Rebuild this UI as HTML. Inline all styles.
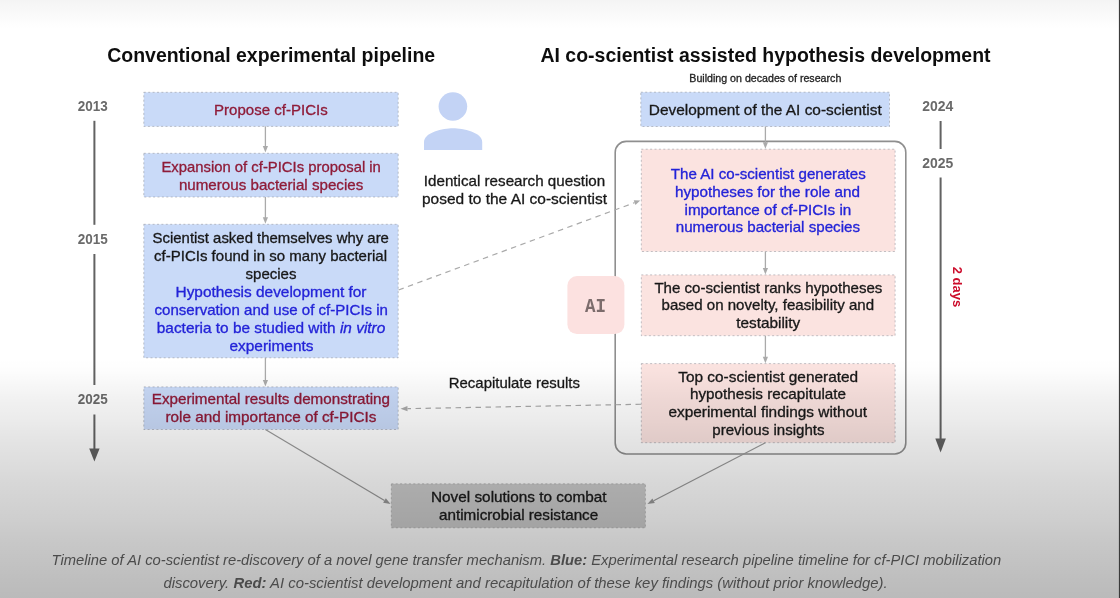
<!DOCTYPE html>
<html lang="en"><head><meta charset="utf-8"><title>AI co-scientist timeline</title>
<style>
html,body{margin:0;padding:0;background:#fff;}
body{width:1120px;height:598px;overflow:hidden;position:relative;}
</style></head>
<body>
<svg width="1120" height="598" viewBox="0 0 1120 598" style="position:absolute;left:0;top:0">
<defs>
<linearGradient id="topg" x1="0" y1="0" x2="0" y2="1"><stop offset="0" stop-color="#f4f4f4"/><stop offset="1" stop-color="#ffffff"/></linearGradient>
<linearGradient id="botg" gradientUnits="userSpaceOnUse" x1="0" y1="340" x2="0" y2="598">
<stop offset="0.0000" stop-color="#000" stop-opacity="0"/>
<stop offset="0.0698" stop-color="#000" stop-opacity="0"/>
<stop offset="0.1163" stop-color="#000" stop-opacity="0.008"/>
<stop offset="0.1550" stop-color="#000" stop-opacity="0.0235"/>
<stop offset="0.2326" stop-color="#000" stop-opacity="0.055"/>
<stop offset="0.3101" stop-color="#000" stop-opacity="0.078"/>
<stop offset="0.3876" stop-color="#000" stop-opacity="0.106"/>
<stop offset="0.4651" stop-color="#000" stop-opacity="0.129"/>
<stop offset="0.5426" stop-color="#000" stop-opacity="0.153"/>
<stop offset="0.6202" stop-color="#000" stop-opacity="0.1725"/>
<stop offset="0.6977" stop-color="#000" stop-opacity="0.192"/>
<stop offset="0.7752" stop-color="#000" stop-opacity="0.2157"/>
<stop offset="0.8527" stop-color="#000" stop-opacity="0.235"/>
<stop offset="0.9302" stop-color="#000" stop-opacity="0.255"/>
<stop offset="1.0000" stop-color="#000" stop-opacity="0.27"/>
</linearGradient>
<filter id="soft" filterUnits="userSpaceOnUse" x="-10" y="-10" width="1140" height="618"><feGaussianBlur stdDeviation="0.55"/></filter>
</defs>
<g filter="url(#soft)">
<rect x="-10" y="-10" width="1140" height="618" fill="#ffffff"/>
<rect x="-10" y="0" width="1140" height="28" fill="url(#topg)"/>
<rect x="-10" y="-10" width="1140" height="10" fill="#f4f4f4"/>
<text x="107.2" y="62" font-family="'Liberation Sans', Arial, sans-serif" font-size="19.5" font-weight="bold" font-style="normal" fill="#111" text-anchor="start" textLength="328" lengthAdjust="spacingAndGlyphs">Conventional experimental pipeline</text>
<text x="540.5" y="62" font-family="'Liberation Sans', Arial, sans-serif" font-size="19.5" font-weight="bold" font-style="normal" fill="#111" text-anchor="start" textLength="450" lengthAdjust="spacingAndGlyphs">AI co-scientist assisted hypothesis development</text>
<text x="689.3" y="81.8" font-family="'Liberation Sans', Arial, sans-serif" font-size="10.5" font-weight="normal" font-style="normal" fill="#222" text-anchor="start" textLength="152" lengthAdjust="spacingAndGlyphs" stroke="#222" stroke-width="0.3">Building on decades of research</text>
<text x="77.8" y="111.3" font-family="'Liberation Sans', Arial, sans-serif" font-size="14" font-weight="bold" font-style="normal" fill="#6a6a6a" text-anchor="start" textLength="30" lengthAdjust="spacingAndGlyphs">2013</text>
<text x="77.8" y="243.5" font-family="'Liberation Sans', Arial, sans-serif" font-size="14" font-weight="bold" font-style="normal" fill="#6a6a6a" text-anchor="start" textLength="30" lengthAdjust="spacingAndGlyphs">2015</text>
<text x="77.8" y="404.2" font-family="'Liberation Sans', Arial, sans-serif" font-size="14" font-weight="bold" font-style="normal" fill="#6a6a6a" text-anchor="start" textLength="30" lengthAdjust="spacingAndGlyphs">2025</text>
<line x1="94.4" y1="120.8" x2="94.4" y2="224.8" stroke="#626262" stroke-width="2"/>
<line x1="94.4" y1="254" x2="94.4" y2="385" stroke="#626262" stroke-width="2"/>
<line x1="94.4" y1="414.5" x2="94.4" y2="450" stroke="#626262" stroke-width="2"/>
<path d="M89.2,448.6 L99.6,448.6 L94.4,461.6 Z" fill="#626262"/>
<text x="922.2" y="111.2" font-family="'Liberation Sans', Arial, sans-serif" font-size="14" font-weight="bold" font-style="normal" fill="#6a6a6a" text-anchor="start" textLength="31" lengthAdjust="spacingAndGlyphs">2024</text>
<text x="922.2" y="167.9" font-family="'Liberation Sans', Arial, sans-serif" font-size="14" font-weight="bold" font-style="normal" fill="#6a6a6a" text-anchor="start" textLength="31" lengthAdjust="spacingAndGlyphs">2025</text>
<line x1="940.6" y1="121" x2="940.6" y2="149" stroke="#626262" stroke-width="2"/>
<line x1="940.6" y1="177.4" x2="940.6" y2="440" stroke="#626262" stroke-width="2"/>
<path d="M935.3,438.4 L945.9,438.4 L940.6,452.4 Z" fill="#626262"/>
<text transform="translate(953.2,266.7) rotate(90)" x="0" y="0" font-family="'Liberation Sans', Arial, sans-serif" font-size="13.2" font-weight="bold" fill="#cc0a2a" textLength="40.5" lengthAdjust="spacingAndGlyphs">2 days</text>
<rect x="143.8" y="92.3" width="254.39999999999998" height="34.10000000000001" fill="#c9daf8"/>
<rect x="143.8" y="92.3" width="254.39999999999998" height="34.10000000000001" fill="none" stroke="#8f949c" stroke-width="1" stroke-dasharray="2 2.4" stroke-opacity="0.55"/>
<text x="214" y="115.1" font-family="'Liberation Sans', Arial, sans-serif" font-size="14.3" font-weight="normal" font-style="normal" fill="#8f1b38" text-anchor="start" textLength="113.7" lengthAdjust="spacingAndGlyphs" stroke="#8f1b38" stroke-width="0.3">Propose cf-PICIs</text>
<line x1="265.4" y1="126.4" x2="265.4" y2="148.6" stroke="#aaaaaa" stroke-width="1.3"/>
<path d="M262.79999999999995,146.1 L268.0,146.1 L265.4,152.6 Z" fill="#aaaaaa"/>
<rect x="143.8" y="153.3" width="254.39999999999998" height="43.69999999999999" fill="#c9daf8"/>
<rect x="143.8" y="153.3" width="254.39999999999998" height="43.69999999999999" fill="none" stroke="#8f949c" stroke-width="1" stroke-dasharray="2 2.4" stroke-opacity="0.55"/>
<text x="161.4" y="172" font-family="'Liberation Sans', Arial, sans-serif" font-size="14.3" font-weight="normal" font-style="normal" fill="#8f1b38" text-anchor="start" textLength="219.5" lengthAdjust="spacingAndGlyphs" stroke="#8f1b38" stroke-width="0.3">Expansion of cf-PICIs proposal in</text>
<text x="178.9" y="189.6" font-family="'Liberation Sans', Arial, sans-serif" font-size="14.3" font-weight="normal" font-style="normal" fill="#8f1b38" text-anchor="start" textLength="184.4" lengthAdjust="spacingAndGlyphs" stroke="#8f1b38" stroke-width="0.3">numerous bacterial species</text>
<line x1="265.4" y1="197.0" x2="265.4" y2="219.8" stroke="#aaaaaa" stroke-width="1.3"/>
<path d="M262.79999999999995,217.3 L268.0,217.3 L265.4,223.8 Z" fill="#aaaaaa"/>
<rect x="143.8" y="224.3" width="254.39999999999998" height="133.5" fill="#c9daf8"/>
<rect x="143.8" y="224.3" width="254.39999999999998" height="133.5" fill="none" stroke="#8f949c" stroke-width="1" stroke-dasharray="2 2.4" stroke-opacity="0.55"/>
<line x1="265.4" y1="357.8" x2="265.4" y2="382.4" stroke="#aaaaaa" stroke-width="1.3"/>
<path d="M262.79999999999995,379.9 L268.0,379.9 L265.4,386.4 Z" fill="#aaaaaa"/>
<rect x="143.8" y="386.9" width="254.39999999999998" height="42.60000000000002" fill="#c9daf8"/>
<rect x="143.8" y="386.9" width="254.39999999999998" height="42.60000000000002" fill="none" stroke="#8f949c" stroke-width="1" stroke-dasharray="2 2.4" stroke-opacity="0.55"/>
<rect x="615.2" y="141.4" width="290.6" height="312.6" rx="11" ry="11" fill="none" stroke="#8f8f8f" stroke-width="1.6"/>
<rect x="640.8" y="92.2" width="248.70000000000005" height="34.3" fill="#c9daf8"/>
<rect x="640.8" y="92.2" width="248.70000000000005" height="34.3" fill="none" stroke="#8f949c" stroke-width="1" stroke-dasharray="2 2.4" stroke-opacity="0.55"/>
<text x="648.75" y="115" font-family="'Liberation Sans', Arial, sans-serif" font-size="14.3" font-weight="normal" font-style="normal" fill="#1a1a1a" text-anchor="start" textLength="233" lengthAdjust="spacingAndGlyphs" stroke="#1a1a1a" stroke-width="0.3">Development of the AI co-scientist</text>
<line x1="765.4" y1="126.5" x2="765.4" y2="144.8" stroke="#aaaaaa" stroke-width="1.3"/>
<path d="M762.8,142.3 L768.0,142.3 L765.4,148.8 Z" fill="#aaaaaa"/>
<rect x="641.3" y="149.2" width="253.80000000000007" height="102.30000000000001" fill="#fbe3e0"/>
<rect x="641.3" y="149.2" width="253.80000000000007" height="102.30000000000001" fill="none" stroke="#8f949c" stroke-width="1" stroke-dasharray="2 2.4" stroke-opacity="0.55"/>
<line x1="765.4" y1="251.5" x2="765.4" y2="270.4" stroke="#aaaaaa" stroke-width="1.3"/>
<path d="M762.8,267.9 L768.0,267.9 L765.4,274.4 Z" fill="#aaaaaa"/>
<rect x="641.3" y="274.9" width="253.80000000000007" height="60.80000000000001" fill="#fbe3e0"/>
<rect x="641.3" y="274.9" width="253.80000000000007" height="60.80000000000001" fill="none" stroke="#8f949c" stroke-width="1" stroke-dasharray="2 2.4" stroke-opacity="0.55"/>
<line x1="765.4" y1="335.7" x2="765.4" y2="359.2" stroke="#aaaaaa" stroke-width="1.3"/>
<path d="M762.8,356.7 L768.0,356.7 L765.4,363.2 Z" fill="#aaaaaa"/>
<rect x="641.3" y="363.6" width="253.80000000000007" height="79.09999999999997" fill="#fbe3e0"/>
<rect x="641.3" y="363.6" width="253.80000000000007" height="79.09999999999997" fill="none" stroke="#8f949c" stroke-width="1" stroke-dasharray="2 2.4" stroke-opacity="0.55"/>
<rect x="567.4" y="276.1" width="57.0" height="58.0" rx="9.5" ry="9.5" fill="#fce1e0"/>
<text x="585.0" y="311.8" font-family="'Liberation Mono', monospace" font-size="20" font-weight="bold" font-style="normal" fill="#7c6c6c" text-anchor="start" textLength="21" lengthAdjust="spacingAndGlyphs">AI</text>
<circle cx="452.9" cy="106.5" r="14.3" fill="#c3d3f5"/>
<path d="M424,150 L424,142 C424,132.5 443,128.3 453,128.3 C463,128.3 482.2,132.5 482.2,142 L482.2,150 Z" fill="#c3d3f5"/>
<text x="423.8" y="186.0" font-family="'Liberation Sans', Arial, sans-serif" font-size="14.3" font-weight="normal" font-style="normal" fill="#1a1a1a" text-anchor="start" textLength="181.4" lengthAdjust="spacingAndGlyphs" stroke="#1a1a1a" stroke-width="0.3">Identical research question</text>
<text x="422" y="204.2" font-family="'Liberation Sans', Arial, sans-serif" font-size="14.3" font-weight="normal" font-style="normal" fill="#1a1a1a" text-anchor="start" textLength="185" lengthAdjust="spacingAndGlyphs" stroke="#1a1a1a" stroke-width="0.3">posed to the AI co-scientist</text>
<text x="448.75" y="387.5" font-family="'Liberation Sans', Arial, sans-serif" font-size="14.3" font-weight="normal" font-style="normal" fill="#1a1a1a" text-anchor="start" textLength="131.25" lengthAdjust="spacingAndGlyphs" stroke="#1a1a1a" stroke-width="0.3">Recapitulate results</text>
<line x1="398.5" y1="290.0" x2="634.57" y2="202.68" stroke="#aaaaaa" stroke-width="1.2" stroke-dasharray="5.5 4.5"/>
<path d="M635.44,205.03 L633.71,200.34 L640.2,200.6 Z" fill="#aaaaaa"/>
<line x1="641" y1="404.25" x2="407.50" y2="408.67" stroke="#aaaaaa" stroke-width="1.2" stroke-dasharray="5.5 4.5"/>
<path d="M407.45,406.07 L407.55,411.27 L400.5,408.8 Z" fill="#aaaaaa"/>
<rect x="391.3" y="483.8" width="254.09999999999997" height="43.99999999999994" fill="#cccccc"/>
<rect x="391.3" y="483.8" width="254.09999999999997" height="43.99999999999994" fill="none" stroke="#999" stroke-width="1" stroke-dasharray="2 2.4" stroke-opacity="0.55"/>
<line x1="265.4" y1="429.5" x2="384.49" y2="500.42" stroke="#999" stroke-width="1.2"/>
<path d="M383.16,502.65 L385.82,498.18 L390.5,504 Z" fill="#999"/>
<line x1="765.4" y1="442.7" x2="653.61" y2="500.77" stroke="#999" stroke-width="1.2"/>
<path d="M652.41,498.47 L654.81,503.08 L647.4,504 Z" fill="#999"/>
<text x="152.6" y="242.6" font-family="'Liberation Sans', Arial, sans-serif" font-size="14.3" fill="#1a1a1a" stroke="#1a1a1a" stroke-width="0.32" textLength="236.3" lengthAdjust="spacingAndGlyphs">Scientist asked themselves why are</text>
<text x="154" y="260.9" font-family="'Liberation Sans', Arial, sans-serif" font-size="14.3" fill="#1a1a1a" stroke="#1a1a1a" stroke-width="0.32" textLength="233" lengthAdjust="spacingAndGlyphs">cf-PICIs found in so many bacterial</text>
<text x="245.5" y="278.6" font-family="'Liberation Sans', Arial, sans-serif" font-size="14.3" fill="#1a1a1a" stroke="#1a1a1a" stroke-width="0.32" textLength="51" lengthAdjust="spacingAndGlyphs">species</text>
<text x="175.5" y="296.5" font-family="'Liberation Sans', Arial, sans-serif" font-size="14.3" fill="#2424d8" stroke="#2424d8" stroke-width="0.32" textLength="191" lengthAdjust="spacingAndGlyphs">Hypothesis development for</text>
<text x="154.5" y="314.8" font-family="'Liberation Sans', Arial, sans-serif" font-size="14.3" fill="#2424d8" stroke="#2424d8" stroke-width="0.32" textLength="233.5" lengthAdjust="spacingAndGlyphs">conservation and use of cf-PICIs in</text>
<text x="156.8" y="332.8" font-family="'Liberation Sans', Arial, sans-serif" font-size="14.3" fill="#2424d8" stroke="#2424d8" stroke-width="0.32" textLength="228.5" lengthAdjust="spacingAndGlyphs">bacteria to be studied with <tspan font-style="italic">in vitro</tspan></text>
<text x="229.5" y="350.5" font-family="'Liberation Sans', Arial, sans-serif" font-size="14.3" fill="#2424d8" stroke="#2424d8" stroke-width="0.32" textLength="84" lengthAdjust="spacingAndGlyphs">experiments</text>
<text x="151.8" y="404.4" font-family="'Liberation Sans', Arial, sans-serif" font-size="14.3" fill="#8f1b38" stroke="#8f1b38" stroke-width="0.32" textLength="238.2" lengthAdjust="spacingAndGlyphs">Experimental results demonstrating</text>
<text x="165.4" y="422" font-family="'Liberation Sans', Arial, sans-serif" font-size="14.3" fill="#8f1b38" stroke="#8f1b38" stroke-width="0.32" textLength="211" lengthAdjust="spacingAndGlyphs">role and importance of cf-PICIs</text>
<text x="670.75" y="178.75" font-family="'Liberation Sans', Arial, sans-serif" font-size="14.3" fill="#2424d8" stroke="#2424d8" stroke-width="0.32" textLength="195" lengthAdjust="spacingAndGlyphs">The AI co-scientist generates</text>
<text x="675" y="196.75" font-family="'Liberation Sans', Arial, sans-serif" font-size="14.3" fill="#2424d8" stroke="#2424d8" stroke-width="0.32" textLength="185" lengthAdjust="spacingAndGlyphs">hypotheses for the role and</text>
<text x="684.5" y="214.5" font-family="'Liberation Sans', Arial, sans-serif" font-size="14.3" fill="#2424d8" stroke="#2424d8" stroke-width="0.32" textLength="166.75" lengthAdjust="spacingAndGlyphs">importance of cf-PICIs in</text>
<text x="675.75" y="232.2" font-family="'Liberation Sans', Arial, sans-serif" font-size="14.3" fill="#2424d8" stroke="#2424d8" stroke-width="0.32" textLength="184.25" lengthAdjust="spacingAndGlyphs">numerous bacterial species</text>
<text x="654.4" y="292.6" font-family="'Liberation Sans', Arial, sans-serif" font-size="14.3" fill="#1a1a1a" stroke="#1a1a1a" stroke-width="0.32" textLength="228" lengthAdjust="spacingAndGlyphs">The co-scientist ranks hypotheses</text>
<text x="661.5" y="310.3" font-family="'Liberation Sans', Arial, sans-serif" font-size="14.3" fill="#1a1a1a" stroke="#1a1a1a" stroke-width="0.32" textLength="212.6" lengthAdjust="spacingAndGlyphs">based on novelty, feasibility and</text>
<text x="736.2" y="327.9" font-family="'Liberation Sans', Arial, sans-serif" font-size="14.3" fill="#1a1a1a" stroke="#1a1a1a" stroke-width="0.32" textLength="64" lengthAdjust="spacingAndGlyphs">testability</text>
<text x="678.2" y="381.7" font-family="'Liberation Sans', Arial, sans-serif" font-size="14.3" fill="#1a1a1a" stroke="#1a1a1a" stroke-width="0.32" textLength="180" lengthAdjust="spacingAndGlyphs">Top co-scientist generated</text>
<text x="690.0" y="399.2" font-family="'Liberation Sans', Arial, sans-serif" font-size="14.3" fill="#1a1a1a" stroke="#1a1a1a" stroke-width="0.32" textLength="156" lengthAdjust="spacingAndGlyphs">hypothesis recapitulate</text>
<text x="668.4" y="417.3" font-family="'Liberation Sans', Arial, sans-serif" font-size="14.3" fill="#1a1a1a" stroke="#1a1a1a" stroke-width="0.32" textLength="198.7" lengthAdjust="spacingAndGlyphs">experimental findings without</text>
<text x="712.3" y="434.7" font-family="'Liberation Sans', Arial, sans-serif" font-size="14.3" fill="#1a1a1a" stroke="#1a1a1a" stroke-width="0.32" textLength="112.2" lengthAdjust="spacingAndGlyphs">previous insights</text>
<text x="431.0" y="502" font-family="'Liberation Sans', Arial, sans-serif" font-size="14.3" fill="#1a1a1a" stroke="#1a1a1a" stroke-width="0.32" textLength="175.5" lengthAdjust="spacingAndGlyphs">Novel solutions to combat</text>
<text x="439.0" y="519.6" font-family="'Liberation Sans', Arial, sans-serif" font-size="14.3" fill="#1a1a1a" stroke="#1a1a1a" stroke-width="0.32" textLength="159.2" lengthAdjust="spacingAndGlyphs">antimicrobial resistance</text>
<rect x="-10" y="340" width="1140" height="258" fill="url(#botg)"/>
<rect x="-10" y="598" width="1140" height="10" fill="#000" fill-opacity="0.27"/>
<rect x="1118.9" y="-10" width="11.1" height="618" fill="#3a3a3a"/>
<text x="51.6" y="565" font-family="'Liberation Sans', Arial, sans-serif" font-size="14.3" font-style="italic" fill="#4c4c4c" textLength="949.6" lengthAdjust="spacingAndGlyphs">Timeline of AI co-scientist re-discovery of a novel gene transfer mechanism. <tspan font-weight="bold">Blue:</tspan> Experimental research pipeline timeline for cf-PICI mobilization</text>
<text x="163.4" y="588" font-family="'Liberation Sans', Arial, sans-serif" font-size="14.3" font-style="italic" fill="#4c4c4c" textLength="724.3" lengthAdjust="spacingAndGlyphs">discovery. <tspan font-weight="bold">Red:</tspan> AI co-scientist development and recapitulation of these key findings (without prior knowledge).</text>
</g>
</svg>
</body></html>
